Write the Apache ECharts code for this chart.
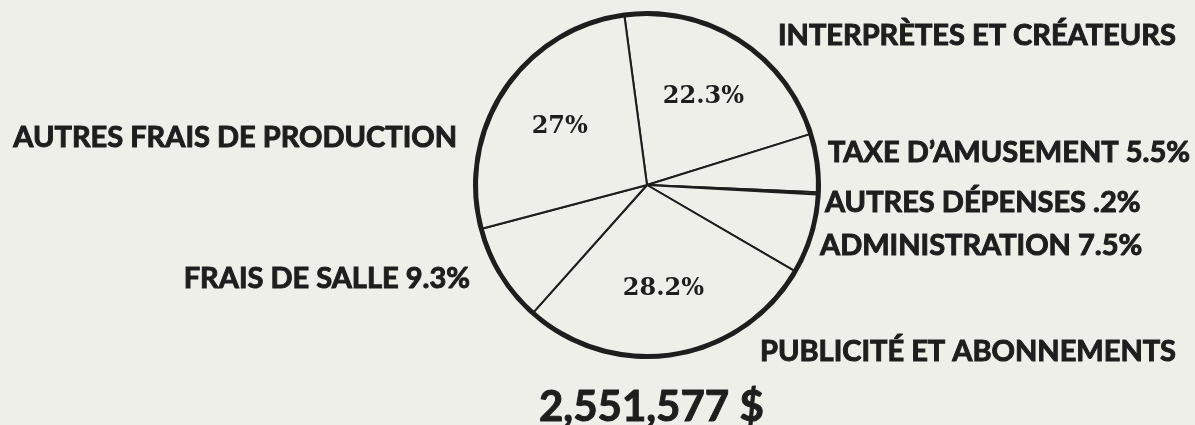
<!DOCTYPE html>
<html>
<head>
<meta charset="utf-8">
<script src="https://cdn.jsdelivr.net/npm/echarts@6/dist/echarts.min.js"></script>
<style>
  html, body { margin: 0; padding: 0; background: #efefea; }
  #chart { width: 1195px; height: 425px; }
</style>
</head>
<body>
<div id="chart"></div>
<script>
// données (pourcentages)
var categories = [
  'INTERPRÈTES ET CRÉATEURS',
  'TAXE D\u2019AMUSEMENT',
  'AUTRES DÉPENSES',
  'ADMINISTRATION',
  'PUBLICITÉ ET ABONNEMENTS',
  'FRAIS DE SALLE',
  'AUTRES FRAIS DE PRODUCTION'
];
var values = [22.3, 5.5, 0.2, 7.5, 28.2, 9.3, 27];
var insideLabels = [true, false, false, false, true, false, true];
var totalText = '2,551,577 $';

// placement des étiquettes extérieures (mise en page seulement)
var labelPos = [
  [778, 36, 'left'],
  [828, 153, 'left'],
  [825, 203, 'left'],
  [820, 246, 'left'],
  [760, 352, 'left'],
  [470, 279, 'right'],
  [457, 138, 'right']
];

var ink = '#1e1e1e';
var bg = '#efefea';
var labelFont = 'Lato';

function pct(v) {
  return String(v).replace(/^0\./, '.') + '%';
}

var chart = echarts.init(document.getElementById('chart'));

var mainData = categories.map(function (name, i) {
  return { name: name, value: values[i] };
});

chart.setOption({
  backgroundColor: bg,
  animation: false,
  title: {
    text: totalText,
    left: 534,
    top: 381,
    textStyle: {
      fontFamily: labelFont, fontWeight: 'bold', fontSize: 42, color: ink,
      textBorderColor: ink, textBorderWidth: 1
    }
  },
  series: [
    {
      // anneau extérieur plus épais
      type: 'pie',
      silent: true,
      center: [647, 185],
      radius: [169, 174],
      startAngle: 97.6,
      label: { show: false },
      itemStyle: { color: ink },
      data: [{ name: 'total', value: 100 }]
    },
    {
      type: 'pie',
      silent: true,
      center: [647, 185],
      radius: [0, 170],
      startAngle: 97.6,
      clockwise: true,
      avoidLabelOverlap: false,
      itemStyle: { color: bg, borderColor: ink, borderWidth: 2 },
      labelLine: { show: false },
      label: {
        show: true,
        fontFamily: labelFont,
        fontWeight: 'bold',
        fontSize: 29,
        color: ink,
        textBorderColor: ink,
        textBorderWidth: 1,
        formatter: function (p) {
          return insideLabels[p.dataIndex] ? p.name : p.name + ' ' + pct(p.value);
        }
      },
      labelLayout: function (p) {
        var pos = labelPos[p.dataIndex];
        return { x: pos[0], y: pos[1], align: pos[2], verticalAlign: 'middle', hideOverlap: false };
      },
      data: mainData
    },
    {
      // pourcentages à l'intérieur des grandes parts
      type: 'pie',
      silent: true,
      center: [647, 185],
      radius: [0, 204],
      startAngle: 97.6,
      z: 5,
      itemStyle: { color: 'transparent', borderWidth: 0 },
      labelLine: { show: false },
      label: {
        position: 'inside',
        fontFamily: 'DejaVu Serif',
        fontWeight: 'bold',
        fontSize: 24,
        color: ink,
        formatter: function (p) {
          return insideLabels[p.dataIndex] ? pct(p.value) : '';
        }
      },
      data: mainData
    }
  ]
});
</script>
</body>
</html>
